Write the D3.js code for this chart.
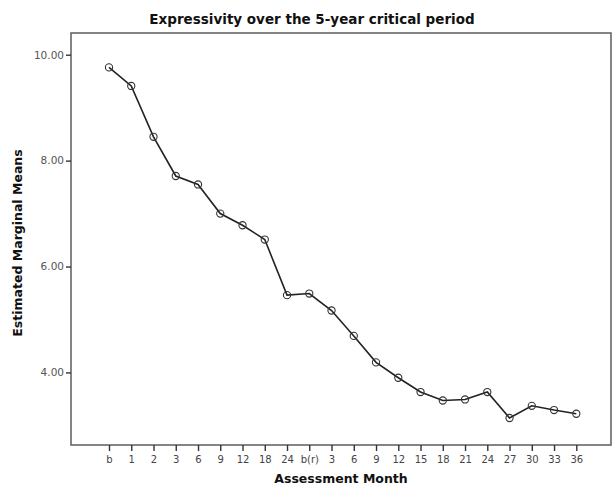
<!DOCTYPE html>
<html>
<head>
<meta charset="utf-8">
<script src="https://cdn.jsdelivr.net/npm/d3@7"></script>
<style>
html,body{margin:0;padding:0;background:#fff;}
svg{display:block;}
</style>
</head>
<body>
<svg id="chart" width="613" height="488"></svg>
<script>
const categories = ["b","1","2","3","6","9","12","18","24","b(r)","3","6","9","12","15","18","21","24","27","30","33","36"];
const means = [9.76,9.41,8.45,7.71,7.55,7.00,6.78,6.51,5.46,5.49,5.17,4.69,4.19,3.90,3.63,3.47,3.49,3.63,3.14,3.37,3.29,3.22];
const yTicks = [4,6,8,10];
const title = "Expressivity over the 5-year critical period";
const xTitle = "Assessment Month";
const yTitle = "Estimated Marginal Means";

const svg = d3.select("#chart");
const frame = {left:71, top:33, right:611, bottom:445};
const font = "DejaVu Sans, Verdana, sans-serif";

const keys = categories.map((c,i)=>i);
const x = d3.scalePoint().domain(keys).range([109, 576.3]);
const y = d3.scaleLinear().domain([2.63, 10.41]).range([frame.bottom, frame.top]);

// frame
svg.append("rect")
  .attr("x", frame.left).attr("y", frame.top)
  .attr("width", frame.right-frame.left).attr("height", frame.bottom-frame.top)
  .attr("fill","none").attr("stroke","#666").attr("stroke-width",1.6);

// y axis
const yAxis = d3.axisLeft(y).tickValues(yTicks).tickFormat(d3.format(".2f")).tickSize(5).tickPadding(2);
const gy = svg.append("g").attr("transform",`translate(${frame.left},0)`).call(yAxis);
gy.select(".domain").remove();
gy.selectAll(".tick line").attr("stroke","#333").attr("stroke-width",1.4);
gy.selectAll(".tick text").attr("font-family",font).attr("font-size",10.5).attr("fill","#555");

// x axis
const xAxis = d3.axisBottom(x).tickFormat(i=>categories[i]).tickSize(6).tickPadding(5);
const gx = svg.append("g").attr("transform",`translate(0,${frame.bottom})`).call(xAxis);
gx.select(".domain").remove();
gx.selectAll(".tick line").attr("stroke","#333").attr("stroke-width",1.4);
gx.selectAll(".tick text").attr("font-family",font).attr("font-size",10).attr("fill","#444");

// line
const line = d3.line().x((d,i)=>x(i)).y(d=>y(d));
svg.append("path").datum(means)
  .attr("d", line).attr("fill","none").attr("stroke","#222").attr("stroke-width",1.6);

svg.append("g").selectAll("circle").data(means).join("circle")
  .attr("cx",(d,i)=>x(i)).attr("cy",d=>y(d)).attr("r",3.6)
  .attr("fill","none").attr("stroke","#333").attr("stroke-width",1.1);

// titles
svg.append("text").attr("x",312).attr("y",24).attr("text-anchor","middle")
  .attr("font-family",font).attr("font-weight","bold").attr("font-size",13.5).attr("fill","#111")
  .text(title);
svg.append("text").attr("x",341).attr("y",483).attr("text-anchor","middle")
  .attr("font-family",font).attr("font-weight","bold").attr("font-size",12.5).attr("fill","#111")
  .text(xTitle);
svg.append("text").attr("transform","translate(22,243) rotate(-90)").attr("text-anchor","middle")
  .attr("font-family",font).attr("font-weight","bold").attr("font-size",12.5).attr("fill","#111")
  .text(yTitle);
</script>
</body>
</html>
